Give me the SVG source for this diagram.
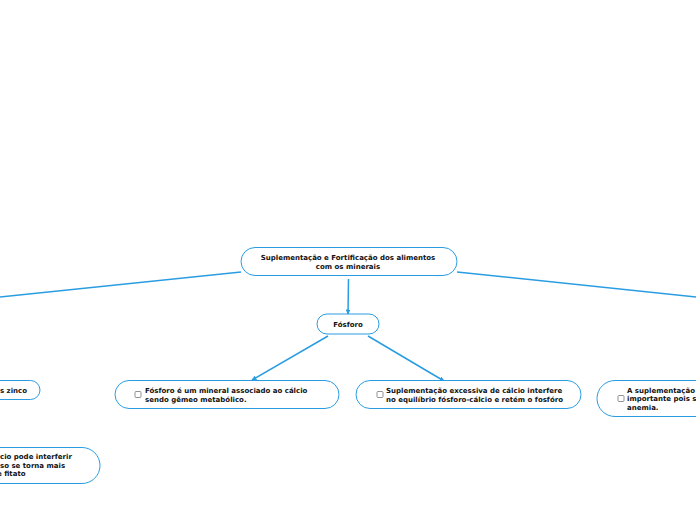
<svg xmlns="http://www.w3.org/2000/svg" width="696" height="520" viewBox="0 0 696 520">
<style>
.box{fill:#fff;stroke:#2a9de2;stroke-width:1}
.t{font-family:"DejaVu Sans",Verdana,sans-serif;font-weight:bold;font-size:7px;fill:#111}
.c{text-anchor:middle}
.ln{stroke:#2a9de2;stroke-width:1.5;fill:none}
.cb{fill:#fff;stroke:#777;stroke-width:0.8}
</style>
<defs>
<marker id="ah" viewBox="0 0 10 10" refX="9" refY="5" markerWidth="5" markerHeight="5" orient="auto" markerUnits="userSpaceOnUse">
<path d="M0,0 L10,5 L0,10 z" fill="#2a9de2"/>
</marker>
</defs>
<rect width="696" height="520" fill="#fff"/>
<g id="connectors">
<line class="ln" x1="241" y1="272" x2="0" y2="297"/>
<line class="ln" x1="457" y1="272" x2="696" y2="297"/>
<line class="ln" x1="348.5" y1="279" x2="348" y2="314" marker-end="url(#ah)"/>
<line class="ln" x1="328" y1="336" x2="252" y2="380" marker-end="url(#ah)"/>
<line class="ln" x1="368" y1="336" x2="444" y2="381" marker-end="url(#ah)"/>
</g>
<g id="central">
<rect class="box" x="241" y="247.5" width="216" height="28" rx="14"/>
<text class="t c" x="348" y="260">Suplementação e Fortificação dos alimentos</text>
<text class="t c" x="348" y="269">com os minerais</text>
</g>
<g id="fosforo">
<rect class="box" x="317" y="314" width="62" height="20" rx="10"/>
<text class="t c" x="348" y="326.5">Fósforo</text>
</g>
<g id="n1">
<rect class="box" x="115" y="380.5" width="224" height="28" rx="14"/>
<rect class="cb" x="135" y="391.5" width="6" height="6" rx="1"/>
<text class="t" x="145" y="392.5">Fósforo é um mineral associado ao cálcio</text>
<text class="t" x="145" y="401.5">sendo gêmeo metabólico.</text>
</g>
<g id="n2">
<rect class="box" x="356" y="380.5" width="225" height="28" rx="14"/>
<rect class="cb" x="377" y="391.5" width="6" height="6" rx="1"/>
<text class="t" x="386" y="392.5">Suplementação excessiva de cálcio interfere</text>
<text class="t" x="386" y="401.5">no equilíbrio fósforo-cálcio e retém o fosfóro</text>
</g>
<g id="n3">
<rect class="box" x="597" y="380.5" width="130" height="36" rx="18"/>
<rect class="cb" x="618" y="395.5" width="6" height="6" rx="1"/>
<text class="t" x="627" y="392.5">A suplementação</text>
<text class="t" x="627" y="401">importante pois s</text>
<text class="t" x="627" y="409.5">anemia.</text>
</g>
<g id="n4">
<rect class="box" x="-60" y="380.5" width="100" height="19" rx="9.5"/>
<text class="t" x="0" y="392.5">s zinco</text>
</g>
<g id="n5">
<rect class="box" x="-100" y="447.5" width="200" height="36" rx="18"/>
<text class="t" x="0" y="459">cio pode interferir</text>
<text class="t" x="0" y="467.5">so se torna mais</text>
<text class="t" x="-3" y="476">e fitato</text>
</g>
</svg>
